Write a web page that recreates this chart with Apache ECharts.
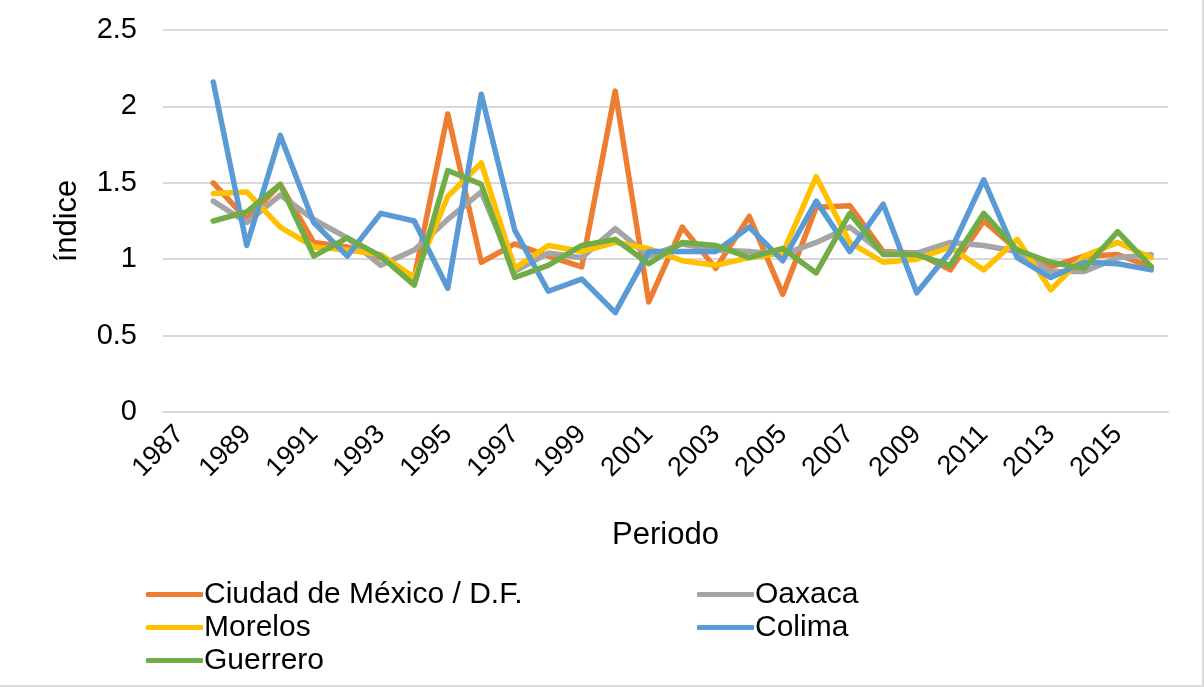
<!DOCTYPE html>
<html>
<head>
<meta charset="utf-8">
<script src="https://cdn.jsdelivr.net/npm/echarts@6/dist/echarts.min.js"></script>
<style>
  html, body { margin: 0; padding: 0; background: #fff; }
  #chart { width: 1202px; height: 685px; border-right: 2px solid #d9d9d9; border-bottom: 2px solid #d9d9d9; }
</style>
</head>
<body>
<div id="chart"></div>
<script>
var years = [];
for (var y = 1987; y <= 2016; y++) years.push(String(y));

// 1987 has no value
var cdmx = [null, 1.50, 1.26, 1.49, 1.11, 1.08, 1.01, 0.88, 1.95, 0.98, 1.10, 1.02, 0.95, 2.10, 0.72, 1.21, 0.94, 1.28, 0.77, 1.34, 1.35, 1.05, 1.04, 0.93, 1.25, 1.06, 0.95, 1.02, 1.03, 0.95];
var oaxaca = [null, 1.38, 1.24, 1.42, 1.26, 1.14, 0.96, 1.06, 1.26, 1.44, 0.92, 1.04, 1.01, 1.20, 1.02, 1.10, 1.06, 1.05, 1.03, 1.11, 1.21, 1.04, 1.04, 1.11, 1.09, 1.05, 0.92, 0.92, 1.01, 1.03];
var morelos = [null, 1.43, 1.44, 1.21, 1.08, 1.06, 1.03, 0.88, 1.41, 1.63, 0.94, 1.09, 1.05, 1.11, 1.07, 0.99, 0.96, 1.01, 1.04, 1.54, 1.11, 0.98, 1.00, 1.08, 0.93, 1.13, 0.80, 1.02, 1.11, 1.01];
var colima = [null, 2.16, 1.09, 1.81, 1.24, 1.02, 1.30, 1.25, 0.81, 2.08, 1.19, 0.79, 0.87, 0.65, 1.05, 1.05, 1.05, 1.21, 0.99, 1.38, 1.05, 1.36, 0.78, 1.05, 1.52, 1.01, 0.88, 0.98, 0.97, 0.93];
var guerrero = [null, 1.25, 1.31, 1.49, 1.02, 1.14, 1.02, 0.83, 1.58, 1.49, 0.88, 0.96, 1.09, 1.13, 0.97, 1.11, 1.09, 1.01, 1.07, 0.91, 1.30, 1.03, 1.03, 0.96, 1.30, 1.06, 0.98, 0.94, 1.18, 0.95];

var names = ['Ciudad de México / D.F.', 'Oaxaca', 'Morelos', 'Colima', 'Guerrero'];
var colors = ['#ED7D31', '#A5A5A5', '#FFC000', '#5B9BD5', '#70AD47'];
var values = [cdmx, oaxaca, morelos, colima, guerrero];

var myChart = echarts.init(document.getElementById('chart'));

var font = 'Liberation Sans, Arial, sans-serif';
var legendBase = {
    orient: 'vertical',
    top: 573,
    icon: 'roundRect',
    itemWidth: 57,
    itemHeight: 5,
    itemGap: 0,
    textStyle: { fontFamily: font, fontSize: 30, color: '#000', lineHeight: 33, padding: [0, 0, 0, -4] }
};

var option = {
    animation: false,
    color: colors,
    textStyle: { fontFamily: font },
    grid: { left: 163, right: 34, top: 30, bottom: 273 },
    legend: [
        Object.assign({ left: 141, data: [names[0], names[2], names[4]] }, legendBase),
        Object.assign({ left: 692, data: [names[1], names[3]] }, legendBase)
    ],
    xAxis: {
        type: 'category',
        data: years,
        boundaryGap: true,
        name: 'Periodo',
        nameLocation: 'middle',
        nameGap: 108,
        nameTextStyle: { fontSize: 31, color: '#000', fontFamily: font },
        axisLine: { lineStyle: { color: '#d9d9d9', width: 2 } },
        axisTick: { show: false },
        axisLabel: { rotate: 45, interval: 1, fontSize: 27, color: '#000', margin: 18, fontFamily: font }
    },
    yAxis: {
        type: 'value',
        min: 0,
        max: 2.5,
        interval: 0.5,
        name: 'índice',
        nameLocation: 'middle',
        nameGap: 80,
        nameTextStyle: { fontSize: 31, color: '#000', fontFamily: font },
        axisLine: { show: false },
        axisTick: { show: false },
        axisLabel: { fontSize: 29, color: '#000', margin: 26, fontFamily: font },
        splitLine: { lineStyle: { color: '#d9d9d9', width: 2 } }
    },
    series: names.map(function (n, i) {
        return {
            name: n,
            type: 'line',
            data: values[i],
            symbol: 'none',
            lineStyle: { width: 5.5, color: colors[i], cap: 'round', join: 'round' },
            itemStyle: { color: colors[i] }
        };
    })
};

myChart.setOption(option);
</script>
</body>
</html>
